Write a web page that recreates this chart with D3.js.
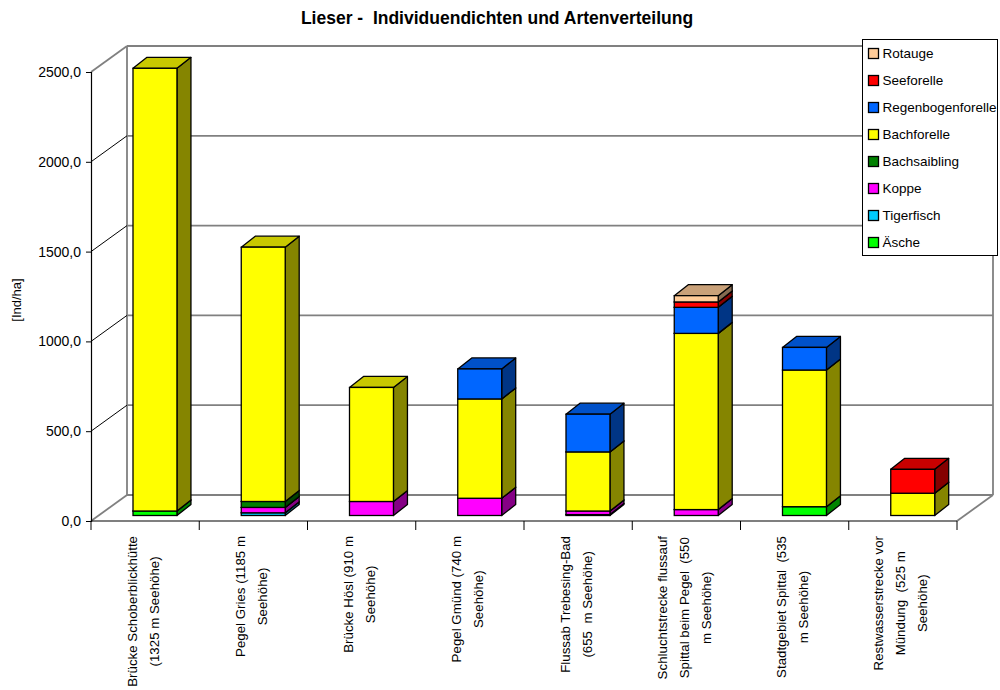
<!DOCTYPE html>
<html>
<head>
<meta charset="utf-8">
<script src="https://cdn.jsdelivr.net/npm/d3@7"></script>
<style>
  html, body { margin: 0; padding: 0; background: #fff; }
  svg { display: block; font-family: "Liberation Sans", Arial, sans-serif; }
  text { white-space: pre; }
</style>
</head>
<body>
<svg id="chart" width="1000" height="690"></svg>
<script>
// ---------------- data ----------------
const categories = [
  "Brücke Schoberblickhütte (1325 m Seehöhe)",
  "Pegel Gries (1185 m Seehöhe)",
  "Brücke Hösl (910 m Seehöhe)",
  "Pegel Gmünd (740 m Seehöhe)",
  "Flussab Trebesing-Bad (655  m Seehöhe)",
  "Schluchtstrecke flussauf Spittal beim Pegel  (550 m Seehöhe)",
  "Stadtgebiet Spittal  (535 m Seehöhe)",
  "Restwasserstrecke vor Mündung  (525 m Seehöhe)"
];
const categoryLines = [
  ["Brücke Schoberblickhütte", "(1325 m Seehöhe)"],
  ["Pegel Gries (1185 m", "Seehöhe)"],
  ["Brücke Hösl (910 m", "Seehöhe)"],
  ["Pegel Gmünd (740 m", "Seehöhe)"],
  ["Flussab Trebesing-Bad", "(655  m Seehöhe)"],
  ["Schluchtstrecke flussauf", "Spittal beim Pegel  (550", "m Seehöhe)"],
  ["Stadtgebiet Spittal  (535", "m Seehöhe)"],
  ["Restwasserstrecke vor", "Mündung  (525 m", "Seehöhe)"]
];
const seriesNames = ["Äsche", "Tigerfisch", "Koppe", "Bachsaibling", "Bachforelle", "Regenbogenforelle", "Seeforelle", "Rotauge"];
const aesche            = [25,    0,    0,   0,   0,   0,  49,   0];
const tigerfisch        = [0,    15,    0,   0,   5,   0,   0,   0];
const koppe             = [0,    30,   78,  96,  20,  33,   0,   0];
const bachsaibling      = [0,    33,    0,   0,   0,   0,   0,   0];
const bachforelle       = [2465, 1416, 635, 553, 329, 981, 761, 124];
const regenbogenforelle = [0,     0,    0, 167, 210, 145, 126,   0];
const seeforelle        = [0,     0,    0,   0,   0,  30,   0, 133];
const rotauge           = [0,     0,    0,   0,   0,  35,   0,   0];
const seriesValues = [aesche, tigerfisch, koppe, bachsaibling, bachforelle, regenbogenforelle, seeforelle, rotauge];
const yTickValues = [0, 500, 1000, 1500, 2000, 2500];
const titleText = "Lieser -  Individuendichten und Artenverteilung";
const yAxisTitle = "[Ind/ha]";

// ---------------- styles ----------------
const seriesColors = ["#00ff00", "#00ccff", "#ff00ff", "#008000", "#ffff00", "#0066ff", "#ff0000", "#ffcc99"];
const font = '"Liberation Sans", Arial, sans-serif';

// ---------------- geometry ----------------
const svg = d3.select("#chart");
const frontX0 = 91, frontX1 = 957;
const wallDX = 36, wallDY = -26;
const barDX = 14, barDY = -11;

const x = d3.scaleBand().domain(categories).range([frontX0, frontX1]).paddingInner(0).paddingOuter(0);
const yFront = d3.scaleLinear().domain([0, 2500]).range([521, 72]);
const yBack  = d3.scaleLinear().domain([0, 2500]).range([521 + wallDY, 72 + wallDY]);
const yBar   = d3.scaleLinear().domain([0, 2500]).range([515.5, 515.5 - 449]);

const barOffset = x.bandwidth() * 0.388;
const barWidth = x.bandwidth() * 0.406;

// back wall
const wall = svg.append("g");
const backLeft = frontX0 + wallDX, backRight = frontX1 + wallDX;
wall.selectAll("line.grid").data(yTickValues).enter().append("line")
  .attr("x1", backLeft).attr("x2", backRight)
  .attr("y1", d => yBack(d)).attr("y2", d => yBack(d))
  .attr("stroke", "#808080").attr("stroke-width", 1.8);
wall.append("line").attr("x1", backLeft).attr("x2", backLeft)
  .attr("y1", yBack(0)).attr("y2", yBack(2500)).attr("stroke", "#808080").attr("stroke-width", 1.8);
wall.append("line").attr("x1", backRight).attr("x2", backRight)
  .attr("y1", yBack(0)).attr("y2", yBack(2500)).attr("stroke", "#808080").attr("stroke-width", 1.8);
wall.selectAll("line.diag").data(yTickValues).enter().append("line")
  .attr("x1", frontX0).attr("y1", d => yFront(d))
  .attr("x2", backLeft).attr("y2", d => yBack(d))
  .attr("stroke", d => (d === 0 || d === 2500) ? "#808080" : "#000")
  .attr("stroke-width", d => (d === 0 || d === 2500) ? 1.8 : 1);
wall.append("line").attr("x1", frontX1).attr("y1", yFront(0))
  .attr("x2", backRight).attr("y2", yBack(0)).attr("stroke", "#808080").attr("stroke-width", 1.8);

// ---------------- bars ----------------
const stackData = categories.map((c, i) => {
  const o = { cat: c };
  seriesNames.forEach((s, j) => { o[s] = seriesValues[j][i]; });
  return o;
});
const stacked = d3.stack().keys(seriesNames)(stackData);

function shade(col, f) {
  const c = d3.rgb(col);
  return d3.rgb(c.r * f, c.g * f, c.b * f).formatHex();
}

const barsG = svg.append("g");
categories.forEach((c, i) => {
  const bx = x(c) + barOffset;
  const g = barsG.append("g");
  stacked.forEach((layer, j) => {
    const lo = layer[i][0], hi = layer[i][1];
    if (hi - lo <= 0) return;
    const y0 = yBar(lo), y1 = yBar(hi);
    const col = seriesColors[j];
    g.append("path")
      .attr("d", `M${bx + barWidth},${y0} L${bx + barWidth + barDX},${y0 + barDY} L${bx + barWidth + barDX},${y1 + barDY} L${bx + barWidth},${y1} Z`)
      .attr("fill", shade(col, 0.52)).attr("stroke", "#000").attr("stroke-width", 1.3).attr("stroke-linejoin", "round");
    g.append("path")
      .attr("d", `M${bx},${y1} L${bx + barDX},${y1 + barDY} L${bx + barWidth + barDX},${y1 + barDY} L${bx + barWidth},${y1} Z`)
      .attr("fill", shade(col, 0.79)).attr("stroke", "#000").attr("stroke-width", 1.3).attr("stroke-linejoin", "round");
    g.append("rect")
      .attr("x", bx).attr("y", y1).attr("width", barWidth).attr("height", y0 - y1)
      .attr("fill", col).attr("stroke", "#000").attr("stroke-width", 1.3);
  });
});

// ---------------- value axis ----------------
const yAxis = d3.axisLeft(yFront).tickValues(yTickValues).tickSize(5).tickPadding(5)
  .tickFormat(d => d3.format(".1f")(d).replace(".", ","));
const yAxisG = svg.append("g").attr("transform", `translate(${frontX0},0)`).call(yAxis);
yAxisG.select(".domain").attr("stroke", "#000").attr("stroke-width", 1.2);
yAxisG.selectAll(".tick line").attr("stroke", "#000");
yAxisG.selectAll(".tick text").attr("font-family", font).attr("font-size", 14).attr("fill", "#000");

// ---------------- category axis ----------------
const catG = svg.append("g");
catG.append("line").attr("x1", frontX0).attr("x2", frontX1)
  .attr("y1", yFront(0)).attr("y2", yFront(0)).attr("stroke", "#000").attr("stroke-width", 1.2);
const boundaries = categories.map(c => x(c)).concat([x(categories[categories.length - 1]) + x.bandwidth()]);
catG.selectAll("line.tick").data(boundaries).enter().append("line")
  .attr("x1", d => d).attr("x2", d => d)
  .attr("y1", yFront(0)).attr("y2", yFront(0) + 9)
  .attr("stroke", "#000").attr("stroke-width", 1);

const labelTop = 536;
const linePitch = 22;
categories.forEach((c, i) => {
  const lines = categoryLines[i];
  const cx = x(c) + x.bandwidth() / 2 - 2;
  const lg = catG.append("g");
  const texts = lines.map(l => lg.append("text").text(l)
    .attr("font-family", font).attr("font-size", 13.3).attr("fill", "#000")
    .attr("text-anchor", "middle").attr("dominant-baseline", "central"));
  const maxLen = d3.max(texts, t => t.node().getComputedTextLength());
  const midY = labelTop + maxLen / 2;
  texts.forEach((t, k) => {
    const lx = cx + (k - (lines.length - 1) / 2) * linePitch;
    t.attr("transform", `translate(${lx},${midY}) rotate(-90)`);
  });
});

// ---------------- titles ----------------
svg.append("text").text(titleText)
  .attr("x", 497).attr("y", 24).attr("text-anchor", "middle")
  .attr("font-family", font).attr("font-weight", "bold").attr("font-size", 17.5).attr("fill", "#000");
svg.append("text").text(yAxisTitle)
  .attr("transform", "translate(21,300) rotate(-90)").attr("text-anchor", "middle")
  .attr("font-family", font).attr("font-size", 13).attr("fill", "#000");

// ---------------- legend ----------------
const legG = svg.append("g");
legG.append("rect").attr("x", 862.5).attr("y", 39.5).attr("width", 135).attr("height", 216)
  .attr("fill", "#fff").attr("stroke", "#000").attr("stroke-width", 1);
const legendOrder = seriesNames.slice().reverse();
const legY = d3.scalePoint().domain(legendOrder).range([53.5, 242.5]);
legendOrder.forEach(name => {
  const j = seriesNames.indexOf(name);
  const cy = legY(name);
  legG.append("rect").attr("x", 868.5).attr("y", cy - 5).attr("width", 10).attr("height", 10)
    .attr("fill", seriesColors[j]).attr("stroke", "#000").attr("stroke-width", 1.3);
  legG.append("text").text(name).attr("x", 882.5).attr("y", cy).attr("dominant-baseline", "central")
    .attr("font-family", font).attr("font-size", 13.5).attr("fill", "#000");
});
</script>
</body>
</html>
